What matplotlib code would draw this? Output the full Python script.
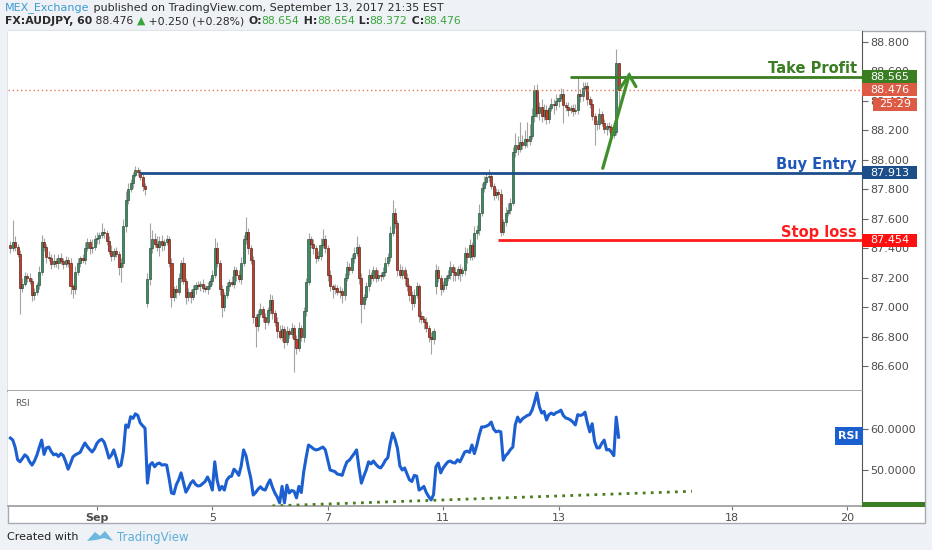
"""TradingView style AUDJPY 1h candle chart with RSI pane and trade levels."""
import numpy as np
import matplotlib.pyplot as plt
from matplotlib.patches import Rectangle, Polygon

W, H = 932, 550

# ---------------------------------------------------------------- data
# hourly closes, bar 1 .. 254 (bar 37 = Sep 1 00:00)
closes = [
    87.40, 87.44, 87.41, 87.36, 87.13, 87.16, 87.21, 87.20, 87.18, 87.08,
    87.10, 87.15, 87.24, 87.44, 87.41, 87.34, 87.33, 87.29, 87.31, 87.30,
    87.33, 87.31, 87.29, 87.32, 87.30, 87.14, 87.12, 87.24, 87.30, 87.33,
    87.32, 87.40, 87.44, 87.40, 87.41, 87.46, 87.47, 87.49, 87.51, 87.50,
    87.45, 87.38, 87.35, 87.38, 87.36, 87.27, 87.30, 87.55, 87.73, 87.80,
    87.84, 87.90, 87.93, 87.92, 87.88, 87.82, 87.80, 87.19, 87.40, 87.46,
    87.43, 87.41, 87.45, 87.42, 87.44, 87.46, 87.30, 87.07, 87.12, 87.10,
    87.20, 87.30, 87.18, 87.07, 87.10, 87.07, 87.12, 87.15, 87.14, 87.16,
    87.13, 87.12, 87.14, 87.18, 87.22, 87.40, 87.30, 87.12, 87.00, 87.08,
    87.14, 87.17, 87.16, 87.25, 87.22, 87.19, 87.30, 87.46, 87.51, 87.40,
    87.32, 86.93, 86.87, 86.95, 86.99, 86.93, 86.90, 86.98, 87.05, 86.96,
    86.90, 86.84, 86.80, 86.85, 86.76, 86.84, 86.82, 86.86, 86.78, 86.72,
    86.86, 86.80, 86.97, 87.17, 87.46, 87.43, 87.40, 87.33, 87.35, 87.42,
    87.46, 87.40, 87.22, 87.14, 87.12, 87.13, 87.10, 87.11, 87.08, 87.20,
    87.27, 87.25, 87.33, 87.37, 87.41, 87.20, 87.02, 87.07, 87.14, 87.22,
    87.20, 87.25, 87.20, 87.22, 87.21, 87.24, 87.30, 87.34, 87.50, 87.64,
    87.57, 87.25, 87.22, 87.25, 87.20, 87.14, 87.08, 87.03, 87.08, 87.14,
    86.94, 86.92, 86.90, 86.86, 86.80, 86.78, 86.84, 87.25, 87.20, 87.12,
    87.15, 87.20, 87.22, 87.27, 87.24, 87.22, 87.26, 87.23, 87.25, 87.37,
    87.34, 87.42, 87.35, 87.50, 87.52, 87.64, 87.81, 87.85, 87.88, 87.89,
    87.82, 87.76, 87.78, 87.77, 87.51, 87.58, 87.64, 87.66, 87.71, 88.05,
    88.10, 88.07, 88.12, 88.10, 88.14, 88.13, 88.16, 88.30, 88.475, 88.32,
    88.36, 88.30, 88.34, 88.28, 88.35, 88.38, 88.37, 88.40, 88.42, 88.45,
    88.37, 88.36, 88.34, 88.35, 88.33, 88.34, 88.45, 88.43, 88.49, 88.50,
    88.41, 88.38, 88.30, 88.24, 88.24, 88.31, 88.25, 88.21, 88.23, 88.22,
    88.17, 88.19, 88.654, 88.476,
]
first_open = 87.42
# bars that open after the weekend gap: bar -> open
gap_opens = {58: 87.03, 178: 87.14}

# wick lengths in pips above / below the candle body
wick_up = [
    3, 15, 4, 2, 3, 4, 3, 2, 3, 2,   3, 2, 4, 5, 3, 2, 4, 3, 5, 2,
    3, 4, 2, 3, 2, 3, 2, 4, 3, 2,    3, 4, 3, 2, 5, 3, 4, 2, 6, 3,
    2, 3, 4, 2, 3, 2, 3, 5, 6, 4,    3, 2, 3, 2, 2, 3, 2, 4, 17, 6,
    4, 5, 3, 4, 2, 3, 2, 3, 2, 3,    3, 2, 4, 2, 3, 2, 3, 2, 3, 2,
    3, 2, 3, 2, 3, 7, 4, 2, 3, 2,    3, 2, 4, 3, 2, 3, 4, 3, 10, 3,
    2, 3, 2, 3, 4, 2, 3, 2, 4, 3,    2, 3, 4, 3, 2, 3, 2, 3, 2, 3,
    4, 2, 3, 3, 4, 2, 3, 2, 3, 5,    7, 3, 2, 3, 2, 3, 2, 3, 2, 3,
    4, 3, 3, 4, 7, 2, 3, 2, 3, 4,    2, 3, 2, 3, 2, 3, 4, 3, 5, 9,
    3, 2, 4, 3, 2, 3, 2, 3, 4, 3,    2, 3, 2, 3, 2, 3, 2, 4, 3, 2,
    3, 2, 3, 4, 2, 3, 2, 3, 2, 4,    3, 4, 2, 5, 4, 6, 3, 4, 3, 5,
    3, 2, 3, 2, 3, 2, 4, 5, 3, 4,    8, 6, 14, 5, 6, 12, 8, 5, 3, 4,
    3, 5, 4, 3, 2, 4, 3, 5, 3, 4,    3, 2, 3, 2, 3, 4, 11, 3, 4, 3,
    3, 2, 3, 2, 3, 4, 2, 3, 2, 3,    2, 3, 10, 0,
]
wick_dn = [
    3, 2, 3, 2, 18, 3, 2, 3, 2, 4,   3, 2, 3, 2, 3, 4, 2, 3, 2, 3,
    4, 2, 3, 2, 3, 5, 6, 3, 2, 3,    2, 3, 2, 4, 3, 2, 3, 4, 2, 3,
    3, 2, 4, 3, 2, 5, 10, 3, 4, 3,   2, 3, 2, 3, 2, 3, 4, 3, 4, 3,
    2, 3, 6, 4, 3, 2, 3, 7, 3, 4,    2, 3, 2, 5, 3, 4, 2, 3, 2, 3,
    3, 2, 3, 2, 3, 2, 3, 4, 7, 3,    2, 3, 2, 3, 4, 2, 3, 2, 3, 4,
    3, 4, 14, 3, 2, 3, 5, 2, 3, 4,   3, 5, 2, 3, 4, 2, 3, 3, 22, 4,
    2, 3, 4, 3, 2, 3, 4, 3, 2, 3,    2, 3, 4, 3, 6, 3, 2, 4, 5, 3,
    2, 3, 2, 3, 2, 4, 13, 3, 2, 3,   4, 2, 3, 2, 3, 2, 3, 2, 3, 2,
    3, 4, 2, 3, 5, 3, 4, 5, 3, 2,    4, 3, 5, 3, 4, 10, 3, 5, 3, 4,
    2, 3, 2, 3, 6, 4, 3, 5, 2, 3,    4, 2, 3, 2, 4, 3, 2, 3, 2, 3,
    2, 3, 2, 4, 3, 2, 3, 2, 3, 2,    3, 4, 2, 3, 2, 4, 3, 2, 4, 3,
    5, 4, 3, 4, 3, 2, 6, 3, 4, 2,    12, 3, 4, 2, 3, 2, 3, 4, 3, 2,
    4, 3, 3, 14, 4, 3, 2, 3, 4, 3,   3, 2, 2, 10,
]

rsi = [
    57.8, 57.3, 55.5, 52.5, 52.0, 52.8, 53.7, 53.2, 52.0, 51.2,
    52.2, 53.6, 55.5, 57.3, 53.8, 55.4, 55.6, 54.5, 53.7, 53.9,
    53.3, 54.0, 53.5, 52.0, 50.2, 51.6, 53.2, 53.7, 54.0, 54.3,
    55.5, 56.6, 55.7, 55.0, 54.4, 55.2, 56.5, 57.2, 57.5, 56.8,
    55.0, 52.9, 53.6, 54.9, 53.0, 50.8, 51.2, 54.5, 61.0, 60.4,
    63.0, 62.6, 63.7, 63.3, 61.5, 60.8, 60.2, 46.8, 51.2, 51.8,
    50.8, 51.5, 51.7, 51.2, 51.3, 51.2, 48.0, 44.4, 44.2, 46.4,
    47.6, 49.3, 47.0, 44.6, 45.6, 46.8, 47.4, 46.5, 46.1, 46.2,
    46.7, 47.2, 48.3, 47.0, 45.1, 52.0, 47.5, 45.1, 46.0, 45.1,
    47.5, 48.3, 48.5, 50.2, 49.6, 48.7, 51.0, 54.9, 53.5, 50.5,
    48.0, 43.9, 44.5, 45.3, 45.9, 45.3, 45.1, 46.5, 47.6, 45.8,
    44.4, 43.4, 42.0, 46.0, 42.0, 46.3, 44.4, 45.0, 44.8, 43.2,
    46.0, 44.5, 49.5, 53.0, 56.1, 55.7, 55.2, 54.9, 55.0, 55.3,
    55.6, 54.9, 52.5, 50.0, 49.8, 49.6, 49.0, 48.9, 48.7, 50.5,
    52.0, 52.4, 53.2, 54.0, 54.9, 50.5, 46.8, 48.5, 50.0, 52.0,
    51.5, 52.2, 51.4, 50.8, 50.5, 51.3, 52.4, 53.0, 56.5, 59.0,
    57.5, 55.3, 51.0, 50.0, 50.5, 49.0, 47.6, 47.2, 48.7, 48.5,
    45.1, 45.5, 46.0, 44.5, 43.5, 42.7, 44.0, 50.8, 51.7, 49.3,
    50.5, 51.3, 52.0, 52.2, 51.8, 51.7, 52.5, 52.0, 53.2, 54.4,
    54.6, 54.3, 56.1, 54.0, 56.0, 58.5, 60.5, 60.5, 60.7, 61.0,
    61.7, 60.0, 59.3, 59.5, 59.3, 52.4, 53.5, 54.1, 55.0, 55.6,
    61.0, 62.9, 61.7, 62.5, 62.9, 63.3, 63.5, 64.6, 66.5, 68.8,
    65.5, 63.9, 64.3, 62.2, 63.5, 63.9, 63.5, 64.0, 64.2, 64.6,
    63.3, 62.7, 62.5, 62.2, 61.7, 61.0, 63.5, 63.3, 63.5, 64.1,
    61.5, 59.3, 61.3, 57.0, 55.4, 55.4, 56.5, 57.3, 54.9, 55.0,
    54.4, 53.5, 62.9, 58.0,
]

# x axis: day labels at the bar index of each day start
day_labels = ['Sep', '5', '7', '11', '13', '18', '20']
day_bars = [37, 85, 133, 181, 229, 301, 349]

# trade levels
take_profit = 88.565
buy_entry = 87.913
stop_loss = 87.454
last_price = 88.476
tp_start, be_start, sl_start = 233.8, 55, 203.8

# drawn arrow (bar, price)
arrow_shaft = ([247.4, 258.4], [87.942, 88.576])
arrow_head = ([254.6, 258.4, 261.2], [88.486, 88.576, 88.497])
# rsi trend line (bar, value)
rsi_trend = ([110, 284.5], [41.25, 44.8])

price_ticks = [86.6, 86.8, 87.0, 87.2, 87.4, 87.6, 87.8, 88.0, 88.2, 88.4, 88.6, 88.8]
rsi_ticks = [50, 60]

# ---------------------------------------------------------------- ohlc
bars = np.arange(1, len(closes) + 1)
c = np.array(closes)
o = np.concatenate(([first_open], c[:-1]))
for b, v in gap_opens.items():
    o[b - 1] = v
hi = np.maximum(o, c) + np.array(wick_up) / 100.0
lo = np.minimum(o, c) - np.array(wick_dn) / 100.0
up = c >= o

# ---------------------------------------------------------------- figure
def fx(px):
    return px / W


def fy(py):
    return 1 - py / H


fig = plt.figure(figsize=(W / 100, H / 100), dpi=100, facecolor='#eef1f5')
fig.patches.append(Rectangle((fx(8), fy(523)), (925 - 8) / W, (523 - 31) / H,
                             transform=fig.transFigure, facecolor='white',
                             edgecolor='#a6abb3', lw=1, zorder=-5))

ax_p = fig.add_axes([fx(8), fy(391), 854 / W, 360 / H])
ax_r = fig.add_axes([fx(8), fy(506), 854 / W, 115 / H], sharex=ax_p)

XMAX = 854 / 2.404
P_LO, P_HI = 86.430, 88.8747
R_LO, R_HI = 41.22, 69.27
ppu_p = 360 / (P_HI - P_LO)
ppu_r = 115 / (R_HI - R_LO)

for ax in (ax_p, ax_r):
    ax.set_facecolor('white')
    ax.spines['left'].set_visible(False)
    ax.spines['top'].set_visible(False)
    ax.spines['right'].set_color('#555555')
    ax.spines['bottom'].set_color('#9a9a9a')
    ax.spines['bottom'].set_linewidth(1.2)
    ax.yaxis.tick_right()
    ax.tick_params(axis='y', length=4, width=0.8, color='#666666',
                   labelcolor='#4d4d4d', labelsize=8, pad=2)

ax_p.set_xlim(0, XMAX)
ax_p.set_ylim(P_LO, P_HI)
ax_p.set_yticks(price_ticks)
ax_p.set_yticklabels([f'{t:.3f}' for t in price_ticks])
ax_p.tick_params(axis='x', bottom=False, labelbottom=False)

# candles
ax_p.vlines(bars, lo, hi, color='#a4a4a4', lw=0.8, zorder=2)
body_h = np.maximum(np.abs(c - o), 0.004)
ax_p.bar(bars[up], body_h[up], bottom=np.minimum(o, c)[up], width=0.86,
         color='#3f8c64', edgecolor='#234a36', lw=0.45, zorder=3)
ax_p.bar(bars[~up], body_h[~up], bottom=np.minimum(o, c)[~up], width=0.86,
         color='#c43c2a', edgecolor='#531a10', lw=0.45, zorder=3)

# levels
ax_p.hlines(last_price, 0, XMAX, color='#e8765f', lw=1, linestyles=(0, (1, 2)), zorder=4)
ax_p.hlines(take_profit, tp_start, XMAX, color='#3b7d23', lw=2, zorder=4)
ax_p.hlines(buy_entry, be_start, XMAX, color='#1c4e8a', lw=2, zorder=4)
ax_p.hlines(stop_loss, sl_start, XMAX, color='#ff1c1c', lw=2, zorder=4)

ytr = ax_p.get_yaxis_transform()
for y, txt, col in [(take_profit, 'Take Profit', '#3b7d23'),
                    (buy_entry, 'Buy Entry', '#1f57b8'),
                    (stop_loss, 'Stop loss', '#ff1c1c')]:
    ax_p.annotate(txt, xy=(1, y), xycoords=ytr, xytext=(-3.6, 2.3),
                  textcoords='offset points', ha='right', va='baseline',
                  fontsize=10.5, fontweight='bold', color=col, zorder=6)

ax_p.plot(*arrow_shaft, color='#3f8f2a', lw=2.3, solid_capstyle='round', zorder=5)
ax_p.plot(*arrow_head, color='#3f8f2a', lw=2.3, solid_capstyle='round',
          solid_joinstyle='miter', zorder=5)


def tag(ax, y, text, color, ppu, x0=862, x1=917, h=13):
    trans = ax.get_yaxis_transform()
    a0 = (x0 - 8) / 854
    a1 = (x1 - 8) / 854
    dh = h / ppu
    ax.add_patch(Rectangle((a0, y - dh / 2), a1 - a0, dh, transform=trans,
                           facecolor=color, edgecolor='none', clip_on=False, zorder=6))
    ax.text((a0 + a1) / 2, y, text, transform=trans, ha='center', va='center',
            color='white', fontsize=8, clip_on=False, zorder=7)


tag(ax_p, take_profit, f'{take_profit:.3f}', '#3b7d23', ppu_p)
tag(ax_p, last_price, f'{last_price:.3f}', '#dd5a45', ppu_p)
tag(ax_p, last_price - 14.5 / ppu_p, '25:29', '#dd5a45', ppu_p, x0=873)
tag(ax_p, buy_entry, f'{buy_entry:.3f}', '#1c4e8a', ppu_p)
tag(ax_p, stop_loss, f'{stop_loss:.3f}', '#ff1010', ppu_p)

# ---------------------------------------------------------------- rsi pane
ax_r.set_ylim(R_LO, R_HI)
ax_r.set_yticks(rsi_ticks)
ax_r.set_yticklabels([f'{t:.4f}' for t in rsi_ticks])
ax_r.plot(bars, rsi, color='#1b5fd1', lw=2.2, zorder=4, solid_joinstyle='round')
ax_r.plot(*rsi_trend, color='#4b7d1f', lw=2, linestyle=(0, (1, 1.9)),
          dash_capstyle='butt', zorder=3)
ax_r.text(7 / 854, 1 - 12 / 115, 'RSI', transform=ax_r.transAxes, fontsize=6.5,
          color='#555555', va='center', ha='left')
ax_r.text(1 - 3 / 854, 58.3, 'RSI', transform=ax_r.get_yaxis_transform(),
          ha='right', va='center', fontsize=8, fontweight='bold', color='white',
          zorder=6, bbox=dict(boxstyle='square,pad=0.35', facecolor='#1a5fd0',
                              edgecolor='none'))

ax_r.set_xticks(day_bars)
ax_r.set_xticklabels(day_labels)
ax_r.tick_params(axis='x', length=3, width=0.8, color='#777777',
                 labelcolor='#4d4d4d', labelsize=8, pad=2)
ax_r.get_xticklabels()[0].set_fontweight('bold')

fig.patches.append(Rectangle((fx(862), fy(506.5)), 63 / W, 4.5 / H,
                             transform=fig.transFigure, facecolor='#3b7d23',
                             edgecolor='none', zorder=5))

# ---------------------------------------------------------------- header / footer
renderer = fig.canvas.get_renderer()


def draw_runs(x_px, y_px, runs, size=8):
    x = x_px
    for txt, col, weight in runs:
        t = fig.text(fx(x), fy(y_px), txt, color=col, fontsize=size,
                     fontweight=weight, ha='left', va='center')
        x += t.get_window_extent(renderer).width


dark = '#2b2b2b'
green = '#3aa53a'
draw_runs(5, 8, [('MEX_Exchange', '#3d9bd3', 'normal'),
                 (' published on TradingView.com, September 13, 2017 21:35 EST', dark, 'normal')])
draw_runs(5, 21, [('FX:AUDJPY, 60', dark, 'bold'), (' 88.476 ', dark, 'normal'),
                  ('\u25b2', green, 'normal'), (' +0.250 (+0.28%) ', dark, 'normal'),
                  ('O:', dark, 'bold'), ('88.654', green, 'normal'),
                  (' H:', dark, 'bold'), ('88.654', green, 'normal'),
                  (' L:', dark, 'bold'), ('88.372', green, 'normal'),
                  (' C:', dark, 'bold'), ('88.476', green, 'normal')], size=7.8)

fig.text(fx(7), fy(537), 'Created with', fontsize=8, color='#222222', va='center')
logo = [(87, 541), (95, 532), (100, 536), (105, 531), (113, 541), (104, 538), (96, 540)]
fig.patches.append(Polygon([(fx(a), fy(b)) for a, b in logo], closed=True,
                           transform=fig.transFigure, facecolor='#6cb8df',
                           edgecolor='none'))
fig.text(fx(117), fy(537), 'TradingView', fontsize=8.5, color='#5eaed9', va='center')

fig.savefig('out.png', dpi=100, facecolor=fig.get_facecolor())
